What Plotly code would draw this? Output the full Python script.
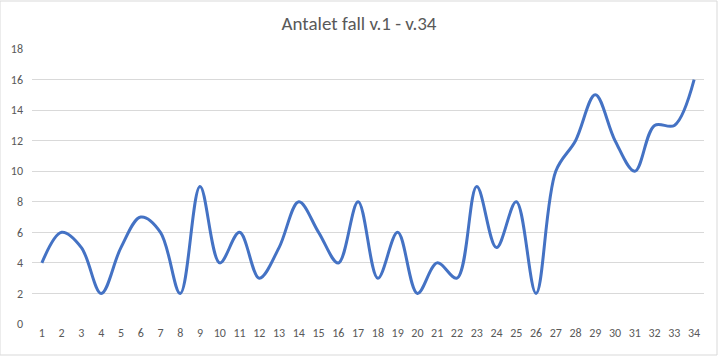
import plotly.graph_objects as go

weeks = list(range(1, 35))
week_labels = [str(w) for w in weeks]
cases = [4, 6, 5, 2, 5, 7, 6, 2, 9, 4, 6, 3, 5, 8, 6, 4, 8, 3, 6, 2,
         4, 3, 9, 5, 8, 2, 10, 12, 15, 12, 10, 13, 13, 16]
y_ticks = list(range(0, 19, 2))

FONT = "Calibri, Carlito, 'Liberation Sans Narrow', 'Liberation Sans', Arial, sans-serif"

fig = go.Figure()
fig.add_trace(go.Scatter(
    x=weeks, y=cases, mode="lines",
    line=dict(color="#4472C4", width=3, shape="spline", smoothing=1.0),
    hoverinfo="x+y", showlegend=False,
))

fig.update_layout(
    width=718, height=356,
    margin=dict(l=32, r=14, t=49, b=32),
    paper_bgcolor="white", plot_bgcolor="white",
    title=dict(text="Antalet fall v.1 - v.34", x=0.5, xanchor="center",
               y=1 - 23 / 356, yanchor="middle",
               font=dict(family=FONT, size=19, color="#595959")),
    font=dict(family=FONT, size=12, color="#595959"),
    xaxis=dict(range=[0.5, 34.5], tickvals=weeks, ticktext=week_labels,
               showgrid=False, zeroline=False, showline=False, ticks="",
               tickfont=dict(size=12, color="#595959"), fixedrange=True),
    yaxis=dict(range=[0, 18], tickvals=y_ticks, showgrid=True,
               gridcolor="#d9d9d9", gridwidth=1, zeroline=False,
               showline=False, ticks="", ticklabelstandoff=8,
               tickfont=dict(size=12, color="#595959"), fixedrange=True),
    shapes=[dict(type="rect", xref="paper", yref="paper",
                 x0=-32 / 672, x1=1 + 13 / 672, y0=-31 / 275, y1=1 + 48 / 275,
                 line=dict(color="#d9d9d9", width=1), fillcolor="rgba(0,0,0,0)")],
)

fig.write_html("out.html")
